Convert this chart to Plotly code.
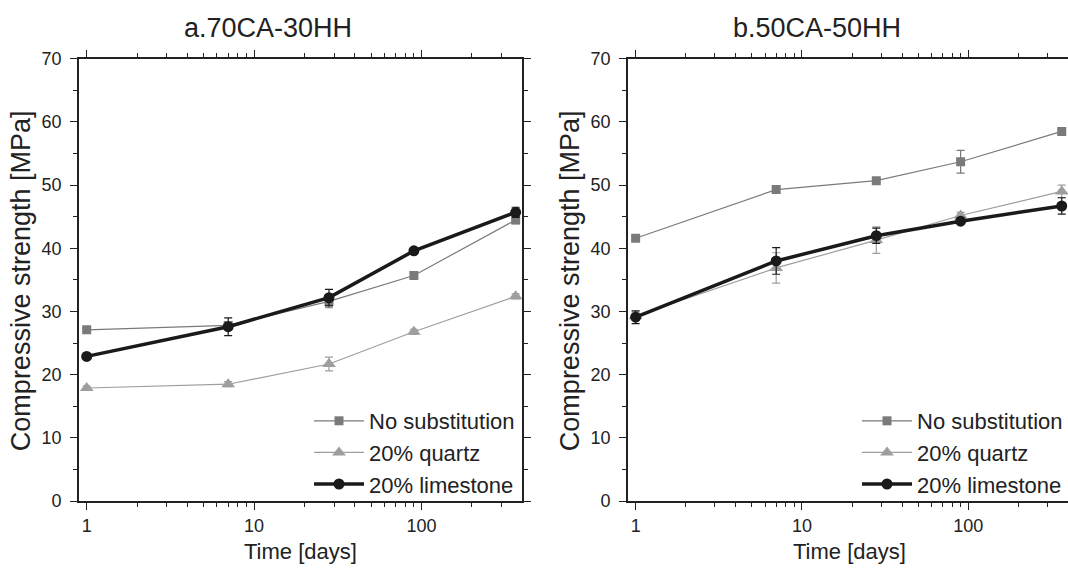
import plotly.graph_objects as go

days = [1, 7, 28, 90, 365]
series_names = ["No substitution", "20% quartz", "20% limestone"]

# Panel a: 70CA-30HH
a_none = [27.1, 27.8, 31.6, 35.7, 44.5]
a_none_err = [0.3, 0.6, 1.0, 0.4, 0.6]
a_quartz = [17.9, 18.5, 21.7, 26.8, 32.4]
a_quartz_err = [0.3, 0.4, 1.1, 0.4, 0.4]
a_lime = [22.9, 27.6, 32.2, 39.6, 45.7]
a_lime_err = [0.3, 1.4, 1.3, 0.4, 0.8]

# Panel b: 50CA-50HH
b_none = [41.6, 49.3, 50.7, 53.7, 58.5]
b_none_err = [0.3, 0.6, 0.4, 1.8, 0.4]
b_quartz = [29.3, 36.9, 41.3, 45.2, 49.0]
b_quartz_err = [0.6, 2.4, 2.1, 0.5, 1.0]
b_lime = [29.1, 38.0, 42.0, 44.3, 46.7]
b_lime_err = [1.0, 2.1, 1.2, 0.4, 1.3]

titles = ["a.70CA-30HH", "b.50CA-50HH"]

FONT = "Liberation Sans, Arial, sans-serif"
styles = [
    dict(color="#7a7a7a", width=1.2, symbol="square", size=9),
    dict(color="#9e9e9e", width=1.2, symbol="triangle-up", size=12),
    dict(color="#1a1a1a", width=3.5, symbol="circle", size=11),
]

fig = go.Figure()

panels = [
    ([a_none, a_quartz, a_lime], [a_none_err, a_quartz_err, a_lime_err], "x", "y", "legend"),
    ([b_none, b_quartz, b_lime], [b_none_err, b_quartz_err, b_lime_err], "x2", "y2", "legend2"),
]

for vals, errs, xa, ya, lg in panels:
    for name, v, e, st in zip(series_names, vals, errs, styles):
        fig.add_trace(go.Scatter(
            x=days, y=v, name=name, mode="lines+markers",
            xaxis=xa, yaxis=ya, legend=lg,
            line=dict(color=st["color"], width=st["width"]),
            marker=dict(symbol=st["symbol"], size=st["size"], color=st["color"]),
            error_y=dict(type="data", array=e, visible=True, color=st["color"],
                         thickness=1.2, width=4),
        ))

xr = [-0.046, 2.600]
common_x = dict(type="log", range=xr, showgrid=False, zeroline=False, showline=True,
                linecolor="#222", linewidth=1.8, ticks="outside", ticklen=7, tickwidth=1.3,
                tickcolor="#222", tickvals=[1, 10, 100], ticktext=["1", "10", "100"],
                tickfont=dict(family=FONT, size=18, color="#222"), ticklabelstandoff=0,
                minor=dict(ticks="outside", ticklen=4,
                           tickvals=[2, 3, 4, 5, 6, 7, 8, 9, 20, 30, 40, 50, 60, 70, 80, 90, 200, 300],
                           tickcolor="#222", tickwidth=1))
common_y = dict(range=[0, 70], showgrid=False, zeroline=False, showline=True,
                linecolor="#222", linewidth=1.8, ticks="outside", ticklen=7, tickwidth=1.3,
                tickcolor="#222", dtick=10, tick0=0,
                tickfont=dict(family=FONT, size=18, color="#222"), ticklabelstandoff=5,
                minor=dict(ticks="outside", ticklen=4, dtick=5, tickcolor="#222", tickwidth=1))

y0 = (570 - 509) / 570
y1 = (570 - 50.5) / 570
dl = [79 / 1068, 522 / 1068]
dr = [628 / 1068, 1.0]

legend_common = dict(bgcolor="rgba(0,0,0,0)", font=dict(family=FONT, size=22, color="#222"),
                     itemwidth=50, tracegroupgap=0, yanchor="bottom", xanchor="right")

fig.update_layout(
    width=1068, height=570,
    margin=dict(l=0, r=0, t=0, b=0),
    paper_bgcolor="white", plot_bgcolor="white",
    font=dict(family=FONT, color="#222"),
    xaxis=dict(common_x, domain=dl, anchor="y", mirror="allticks"),
    yaxis=dict(common_y, domain=[y0, y1], anchor="x", mirror="allticks"),
    xaxis2=dict(common_x, domain=dr, anchor="y2", mirror="allticks"),
    yaxis2=dict(common_y, domain=[y0, y1], anchor="x2", mirror=False),
    legend=dict(legend_common, x=520 / 1068, y=(570 - 513) / 570),
    legend2=dict(legend_common, x=1.0, y=(570 - 513) / 570),
    showlegend=True,
)

ann = []
for t, cx in zip(titles, [268, 817]):
    ann.append(dict(text=t, x=cx / 1068, y=1 - 19 / 570, xref="paper", yref="paper",
                    showarrow=False, font=dict(family=FONT, size=27, color="#222"),
                    xanchor="center", yanchor="middle"))
for cx in [300, 849]:
    ann.append(dict(text="Time [days]", x=cx / 1068, y=1 - 561 / 570, xref="paper", yref="paper",
                    showarrow=False, font=dict(family=FONT, size=22, color="#222"),
                    xanchor="center", yanchor="middle"))
for cx in [21, 570]:
    ann.append(dict(text="Compressive strength [MPa]", x=cx / 1068, y=1 - 281 / 570,
                    xref="paper", yref="paper", textangle=-90, showarrow=False,
                    font=dict(family=FONT, size=27, color="#222"),
                    xanchor="center", yanchor="middle"))
fig.update_layout(annotations=ann)

fig.write_html("out.html")
